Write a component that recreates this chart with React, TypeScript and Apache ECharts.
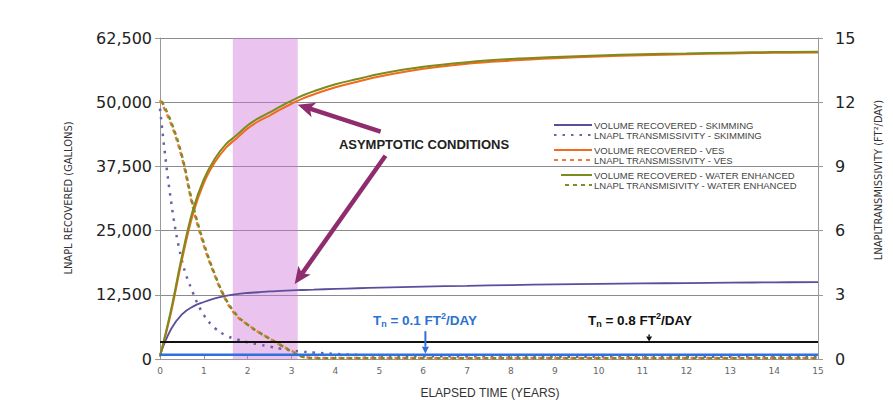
import React, { useEffect, useRef } from "react";
import * as echarts from "echarts";

// elapsed time (years)
const years = [0, 0.25, 0.5, 0.75, 1, 1.25, 1.5, 1.75, 2, 2.25, 2.5, 2.75, 3, 3.25, 3.5, 4, 4.5, 5, 6, 7, 8, 9, 10, 11, 12, 13, 14, 15];

// LNAPL recovered (gallons)
const skimVolume = [800, 5800, 8700, 10200, 11100, 11800, 12300, 12650, 12850, 13000, 13150, 13250, 13350, 13430, 13500, 13650, 13780, 13900, 14100, 14250, 14400, 14520, 14620, 14710, 14790, 14860, 14920, 14980];
const vesVolume = [500, 9000, 19300, 28200, 34300, 38300, 41100, 43000, 44900, 46300, 47400, 48600, 49700, 50700, 51500, 52900, 54000, 55000, 56500, 57500, 58100, 58550, 58900, 59150, 59350, 59500, 59620, 59700];
const weVolume = [500, 9500, 20000, 29000, 35000, 39000, 41800, 43600, 45500, 46900, 48000, 49200, 50300, 51300, 52100, 53500, 54500, 55500, 56900, 57800, 58400, 58800, 59100, 59350, 59500, 59650, 59750, 59800];

// LNAPL transmissivity (ft2/day)
const skimT = [11.7, 7.4, 4.6, 3.1, 2.05, 1.45, 1.1, 0.92, 0.78, 0.68, 0.58, 0.48, 0.4, 0.34, 0.3, 0.24, 0.19, 0.16, 0.13, 0.12, 0.11, 0.1, 0.1, 0.1, 0.1, 0.1, 0.1, 0.1];
const vesT = [12.1, 11.0, 9.4, 7.1, 5.3, 3.9, 2.75, 2.0, 1.6, 1.25, 0.95, 0.65, 0.38, 0.12, 0.06, 0.05, 0.05, 0.05, 0.05, 0.05, 0.05, 0.05, 0.05, 0.05, 0.05, 0.05, 0.05, 0.05];
const weT = [12.2, 11.1, 9.5, 7.2, 5.4, 3.95, 2.8, 2.05, 1.6, 1.25, 0.95, 0.65, 0.35, 0.1, 0.04, 0.03, 0.03, 0.03, 0.03, 0.03, 0.03, 0.03, 0.03, 0.03, 0.03, 0.03, 0.03, 0.03];

// thresholds (ft2/day, as drawn)
const tnBlueLevel = 0.2;
const tnBlackLevel = 0.8;
const tnBlueAt = 6.05;
const tnBlackAt = 11.15;

// asymptotic conditions window (years)
const shadeStart = 1.66;
const shadeEnd = 3.14;

const NAMES = [
  "VOLUME RECOVERED - SKIMMING",
  "LNAPL TRANSMISSIVITY - SKIMMING",
  "VOLUME RECOVERED - VES",
  "LNAPL TRANSMISSIVITY - VES",
  "VOLUME RECOVERED - WATER ENHANCED",
  "LNAPL TRANSMISIVITY - WATER ENHANCED",
];

const pair = (ys: number[]) => years.map((t, i) => [t, ys[i]]);

function arrow(x1: number, y1: number, x2: number, y2: number, color: string, width: number, headLen: number, headW: number, notch = 0) {
  const dx = x2 - x1, dy = y2 - y1;
  const L = Math.hypot(dx, dy);
  const ux = dx / L, uy = dy / L;
  const bx = x2 - ux * headLen, by = y2 - uy * headLen;
  const px = -uy, py = ux;
  const nx = bx + ux * headLen * notch, ny = by + uy * headLen * notch;
  return [
    { type: "line", silent: true, z: 50, shape: { x1, y1, x2: nx, y2: ny }, style: { stroke: color, lineWidth: width } },
    {
      type: "polygon", silent: true, z: 50,
      shape: { points: [[x2, y2], [bx + (px * headW) / 2, by + (py * headW) / 2], [nx, ny], [bx - (px * headW) / 2, by - (py * headW) / 2]] },
      style: { fill: color },
    },
  ];
}

export default function App() {
  const ref = useRef<HTMLDivElement>(null);
  useEffect(() => {
    const chart = echarts.init(ref.current!, null, { renderer: "svg" });
    const legendText = { fontSize: 9.5, color: "#444", fontFamily: "'Liberation Sans', Arial, sans-serif", lineHeight: 10, padding: [0, 0, 0, -3] };
    const legendBase = {
      orient: "vertical", itemGap: 0, itemHeight: 10, itemWidth: 38, selectedMode: false,
      padding: 0, textStyle: legendText,
      itemStyle: { opacity: 0, borderWidth: 0 },
    };
    const lineSeries = (name: string, yAxisIndex: number, ys: number[], color: string, width: number, type: any, extra: any = {}) => ({
      name, type: "line", yAxisIndex, data: pair(ys), smooth: 0.4, symbol: "none", showSymbol: false,
      lineStyle: { color, width, type, ...extra }, itemStyle: { color },
    });
    chart.setOption({
      animation: false,
      grid: { left: 160, right: 75, top: 38, bottom: 41 },
      legend: [
        { ...legendBase, left: 553, top: 120, data: [NAMES[0], NAMES[1]] },
        { ...legendBase, left: 553, top: 145, data: [NAMES[2], NAMES[3]] },
        { ...legendBase, left: 560, top: 170, itemWidth: 31, data: [NAMES[4], NAMES[5]] },
      ],
      xAxis: {
        type: "value", min: 0, max: 15, interval: 1,
        axisLine: { lineStyle: { color: "#999" } },
        axisTick: { inside: true, length: 3, lineStyle: { color: "#999" } },
        axisLabel: { fontSize: 9, color: "#666", margin: 7, fontFamily: "'DejaVu Sans', sans-serif" },
        splitLine: { show: false },
      },
      yAxis: [
        {
          type: "value", min: 0, max: 62500, interval: 12500,
          axisLine: { show: true, lineStyle: { color: "#999" } },
          axisTick: { show: true, length: 5, lineStyle: { color: "#999" } },
          axisLabel: {
            fontSize: 16, color: "#222", margin: 8, fontFamily: "'DejaVu Sans', sans-serif",
            formatter: (v: number) => v.toLocaleString("en-US"),
          },
          splitLine: { lineStyle: { color: "#8c8c8c", width: 1 } },
        },
        {
          type: "value", min: 0, max: 15, interval: 3, position: "right",
          axisLine: { show: true, lineStyle: { color: "#999" } },
          axisTick: { show: true, length: 5, lineStyle: { color: "#999" } },
          axisLabel: { fontSize: 16, color: "#222", margin: 17, fontFamily: "'DejaVu Sans', sans-serif" },
          splitLine: { show: false },
        },
      ],
      series: [
        {
          ...lineSeries(NAMES[0], 0, skimVolume, "#5b4e9c", 1.8, "solid"),
          markArea: {
            silent: true,
            itemStyle: { color: "rgba(205,115,215,0.42)" },
            data: [[{ xAxis: shadeStart }, { xAxis: shadeEnd }]],
          },
        },
        lineSeries(NAMES[1], 1, skimT, "#6a64a6", 2.5, [2.5, 6]),
        lineSeries(NAMES[2], 0, vesVolume, "#f26a1b", 2, "solid"),
        lineSeries(NAMES[3], 1, vesT, "#f07a38", 2.5, [4, 4]),
        lineSeries(NAMES[4], 0, weVolume, "#7c8a1e", 2, "solid"),
        lineSeries(NAMES[5], 1, weT, "#7d8c2a", 2.5, [4, 4], { dashOffset: 4 }),
        {
          name: "Tn 0.8", type: "line", yAxisIndex: 1, data: [[0, tnBlackLevel], [15, tnBlackLevel]], symbol: "none",
          lineStyle: { color: "#111", width: 2 }, silent: true,
        },
        {
          name: "Tn 0.1", type: "line", yAxisIndex: 1, data: [[0, tnBlueLevel], [15, tnBlueLevel]], symbol: "none",
          lineStyle: { color: "#2f6fdf", width: 2.5 }, silent: true,
        },
      ],
    });

    const px = (t: number) => chart.convertToPixel({ xAxisIndex: 0 }, t) as number;
    const pyL = (v: number) => chart.convertToPixel({ yAxisIndex: 0 }, v) as number;
    const pyR = (v: number) => chart.convertToPixel({ yAxisIndex: 1 }, v) as number;

    const purple = "#8e2c6e";
    const ff = "'Liberation Sans', Arial, sans-serif";
    const tnRich = (color: string) => ({
      b: { fontSize: 13.5, fontWeight: "bold", fill: color, fontFamily: ff },
      s: { fontSize: 9, fontWeight: "bold", fill: color, padding: [8, 0, 0, 0], fontFamily: ff },
      p: { fontSize: 9, fontWeight: "bold", fill: color, padding: [0, 0, 8, 0], fontFamily: ff },
    });

    const blueX = px(tnBlueAt);
    const blackX = px(tnBlackAt);
    const graphic: any[] = [
      ...arrow(px(5.03), pyL(44270), px(3.14), pyL(49500), purple, 4.5, 17, 15, 0.25),
      ...arrow(px(5.14), pyL(39560), px(3.07), pyL(14600), purple, 4.5, 17, 15, 0.25),
      ...arrow(blueX, pyR(1.3), blueX, pyR(tnBlueLevel + 0.05), "#2f6fdf", 2, 7, 7),
      ...arrow(blackX, pyR(1.15), blackX, pyR(tnBlackLevel + 0.02), "#111", 1.5, 5, 6),
      {
        type: "text", x: 424, y: 144, z: 50,
        style: { text: "ASYMPTOTIC CONDITIONS", fontSize: 13, fontWeight: "bold", fill: "#222", align: "center", verticalAlign: "middle", fontFamily: ff },
      },
      {
        type: "text", x: 425, y: 320, z: 50,
        style: { text: "{b|T}{s|n}{b| = 0.1 FT}{p|2}{b|/DAY}", rich: tnRich("#2a72d4"), align: "center", verticalAlign: "middle" },
      },
      {
        type: "text", x: 640, y: 320, z: 50,
        style: { text: "{b|T}{s|n}{b| = 0.8 FT}{p|2}{b|/DAY}", rich: tnRich("#111"), align: "center", verticalAlign: "middle" },
      },
      {
        type: "text", x: 68, y: 198, rotation: Math.PI / 2,
        style: { text: "LNAPL RECOVERED (GALLONS)", fontSize: 11, fill: "#333", align: "center", verticalAlign: "middle", fontFamily: "'Liberation Sans Narrow', 'DejaVu Sans Condensed', sans-serif" },
      },
      {
        type: "text", x: 878, y: 180, rotation: Math.PI / 2,
        style: { text: "LNAPLTRANSMISSIVITY (FT²/DAY)", fontSize: 11, fill: "#333", align: "center", verticalAlign: "middle", fontFamily: "'Liberation Sans Narrow', 'DejaVu Sans Condensed', sans-serif" },
      },
      {
        type: "text", x: 490, y: 393,
        style: { text: "ELAPSED TIME (YEARS)", fontSize: 12, fill: "#333", align: "center", verticalAlign: "middle", fontFamily: ff },
      },
    ];
    chart.setOption({ graphic });
    return () => chart.dispose();
  }, []);
  return <div ref={ref} style={{ position: "fixed", left: 0, top: 0, width: 893, height: 400, background: "#fff" }} />;
}
